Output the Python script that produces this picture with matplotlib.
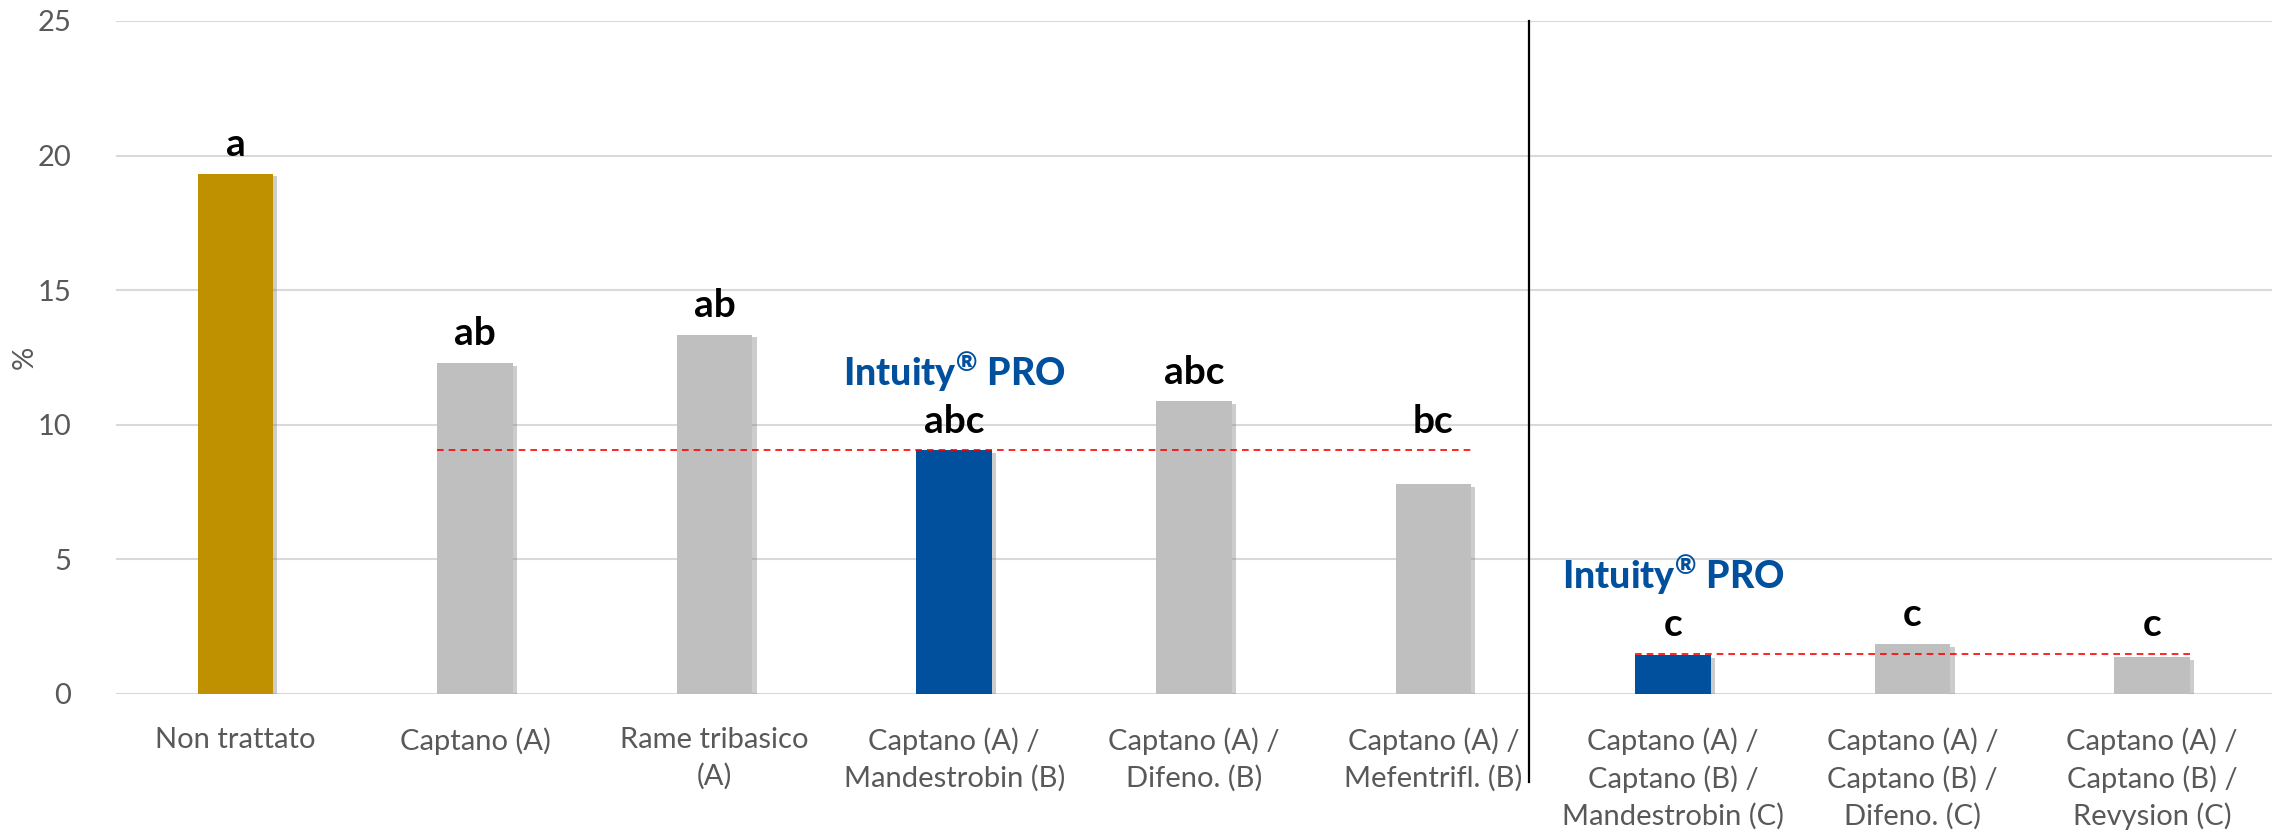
import matplotlib
matplotlib.use("Agg")
import matplotlib.pyplot as plt
import matplotlib.patheffects as pe

# Data
categories = [
    "Non trattato",
    "Captano (A)",
    "Rame tribasico\n(A)",
    "Captano (A) /\nMandestrobin (B)",
    "Captano (A) /\nDifeno. (B)",
    "Captano (A) /\nMefentrifl. (B)",
    "Captano (A) /\nCaptano (B) /\nMandestrobin (C)",
    "Captano (A) /\nCaptano (B) /\nDifeno. (C)",
    "Captano (A) /\nCaptano (B) /\nRevysion (C)",
]
values = [19.33, 12.3, 13.35, 9.05, 10.88, 7.8, 1.45, 1.86, 1.36]
letters = ["a", "ab", "ab", "abc", "abc", "bc", "c", "c", "c"]
kinds = ["control", "other", "other", "intuity", "other", "other", "intuity", "other", "other"]
# reference lines: (Intuity PRO level, first index, last index)
ref_lines = [(9.05, 1, 5), (1.50, 6, 8)]
yticks = [0, 5, 10, 15, 20, 25]

colors = {"control": "#BF9000", "other": "#BFBFBF", "intuity": "#00509E"}
bar_w = 0.315

plt.rcParams["font.family"] = ["Lato", "DejaVu Sans"]
plt.rcParams["mathtext.default"] = "regular"

fig = plt.figure(figsize=(22.8, 8.3), dpi=100)
ax = fig.add_axes([0.0507, 0.1639, 0.9458, 0.8108])

x = list(range(len(categories)))
bars = ax.bar(x, values, width=bar_w, color=[colors[k] for k in kinds], zorder=3)
for b in bars:
    b.set_path_effects([pe.SimplePatchShadow(offset=(3, -2), shadow_rgbFace="#808080", alpha=0.4),
                        pe.Normal()])

# dashed red lines at the Intuity PRO level
ref_of = {}
for lvl, i0, i1 in ref_lines:
    ax.plot([i0 - bar_w / 2, i1 + bar_w / 2], [lvl, lvl], color="#FF0000", lw=1.2,
            dashes=(4, 3), zorder=4)
    for i in range(i0, i1 + 1):
        ref_of[i] = lvl

# significance letters
for i, (v, t) in enumerate(zip(values, letters)):
    y = max(v, ref_of.get(i, 0)) + 0.65
    ax.text(i, y, t, ha="center", va="baseline", fontsize=28, fontweight="bold",
            color="black", zorder=5)

# Intuity PRO brand labels
for i, k in enumerate(kinds):
    if k == "intuity":
        y = max(values[i], ref_of.get(i, 0)) + 2.4
        ax.text(i, y, "Intuity$^{®}$ PRO", ha="center", va="baseline",
                fontsize=27, fontweight="black", color="#00509E", zorder=5)

# separator between the two groups
ax.plot([5.4, 5.4], [-0.131, 1.0], transform=ax.get_xaxis_transform(),
        color="black", lw=1.6, clip_on=False, zorder=5)

ax.set_xlim(-0.5, len(categories) - 0.5)
ax.set_ylim(0, 25)
ax.set_yticks(yticks)
ax.set_xticks(x)
ax.set_xticklabels(categories, fontsize=21, color="#595959", linespacing=1.45)
ax.tick_params(axis="y", labelsize=21, labelcolor="#595959", length=0, pad=32)
ax.tick_params(axis="x", length=0, pad=24)
ax.yaxis.grid(True, color="#D9D9D9", lw=1.5, zorder=0)
ax.set_axisbelow(True)
for s in ax.spines.values():
    s.set_visible(False)
ax.set_ylabel("%", fontsize=21, color="#595959")
ax.yaxis.set_label_coords(-0.036, 0.5)

fig.savefig("out.png", dpi=100)
